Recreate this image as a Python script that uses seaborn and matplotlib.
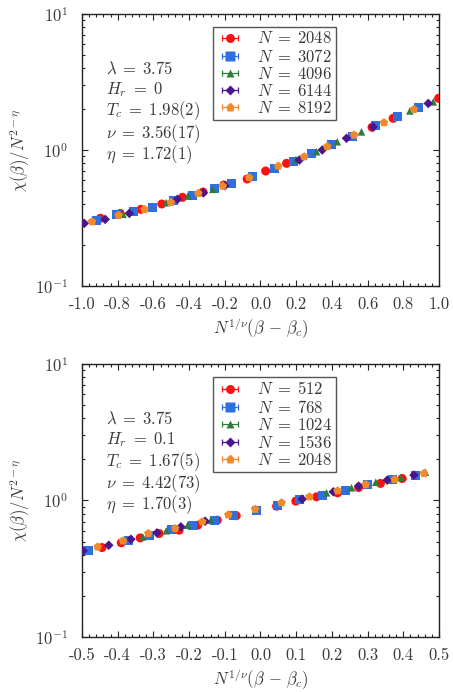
import numpy as np
import pandas as pd
import matplotlib
matplotlib.use("Agg")
import matplotlib.pyplot as plt
import seaborn as sns
from matplotlib.ticker import FixedLocator, MultipleLocator, LogLocator, NullFormatter

# ---------------- data ----------------
top_labels = ["2048", "3072", "4096", "6144", "8192"]
top_red_x = [-0.897, -0.786, -0.67, -0.553, -0.437, -0.322, -0.205, -0.075, 0.029, 0.146, 0.625, 0.743, 0.998]
top_red_y = [0.315, 0.342, 0.366, 0.401, 0.449, 0.491, 0.553, 0.612, 0.701, 0.798, 1.47, 1.71, 2.40]
top_blue_x = [-0.92, -0.804, -0.711, -0.603, -0.487, -0.379, -0.26, -0.165, -0.045, 0.08, 0.184, 0.286, 0.398, 0.515, 0.645, 0.765, 0.888]
top_blue_y = [0.305, 0.333, 0.352, 0.377, 0.422, 0.464, 0.52, 0.569, 0.637, 0.733, 0.820, 0.935, 1.09, 1.25, 1.52, 1.76, 2.06]
top_green_x = [-0.77, -0.528, -0.407, -0.267, 0.199, 0.314, 0.43, 0.566, 0.837, 0.968]
top_green_y = [0.337, 0.410, 0.459, 0.514, 0.853, 0.972, 1.15, 1.36, 1.94, 2.26]
top_purple_x = [-0.987, -0.87, -0.735, -0.465, -0.32, -0.2, 0.218, 0.346, 0.482, 0.631, 0.94]
top_purple_y = [0.289, 0.309, 0.342, 0.434, 0.485, 0.547, 0.844, 1.0, 1.22, 1.48, 2.20]
top_orange_x = [-0.944, -0.795, -0.65, -0.502, -0.348, -0.211, -0.063, 0.10, 0.245, 0.374, 0.525, 0.692, 0.86]
top_orange_y = [0.297, 0.331, 0.366, 0.412, 0.480, 0.543, 0.626, 0.762, 0.893, 1.06, 1.29, 1.59, 1.99]

bot_labels = ["512", "768", "1024", "1536", "2048"]
bot_red_x = [-0.444, -0.39, -0.337, -0.284, -0.228, -0.176, -0.121, -0.068, 0.045, 0.099, 0.157, 0.216, 0.275, 0.336, 0.397]
bot_red_y = [0.452, 0.490, 0.532, 0.573, 0.606, 0.659, 0.718, 0.773, 0.908, 0.989, 1.064, 1.138, 1.245, 1.334, 1.449]
bot_blue_x = [-0.481, -0.37, -0.311, -0.248, -0.19, -0.13, -0.076, -0.011, 0.047, 0.109, 0.174, 0.239, 0.301, 0.369, 0.435]
bot_blue_y = [0.433, 0.512, 0.557, 0.612, 0.652, 0.718, 0.776, 0.839, 0.918, 1.016, 1.094, 1.191, 1.310, 1.426, 1.517]
bot_green_x = [-0.33, -0.264, -0.204, -0.139, 0.185, 0.255, 0.323, 0.393, 0.462]
bot_green_y = [0.541, 0.600, 0.659, 0.718, 1.138, 1.239, 1.361, 1.476, 1.614]
bot_purple_x = [-0.497, -0.425, -0.363, -0.29, -0.223, -0.155, 0.117, 0.204, 0.275, 0.355, 0.43]
bot_purple_y = [0.428, 0.470, 0.520, 0.579, 0.641, 0.705, 1.023, 1.158, 1.274, 1.409, 1.535]
bot_orange_x = [-0.456, -0.385, -0.314, -0.239, -0.163, -0.09, -0.015, 0.059, 0.137, 0.216, 0.295, 0.376, 0.458]
bot_orange_y = [0.457, 0.506, 0.573, 0.624, 0.698, 0.785, 0.863, 0.962, 1.064, 1.178, 1.310, 1.426, 1.578]

top_params = [r"$\lambda\;=\;3.75$", r"$H_r\;=\;0$", r"$T_c\;=\;1.98(2)$", r"$\nu\;=\;3.56(17)$", r"$\eta\;=\;1.72(1)$"]
bot_params = [r"$\lambda\;=\;3.75$", r"$H_r\;=\;0.1$", r"$T_c\;=\;1.67(5)$", r"$\nu\;=\;4.42(73)$", r"$\eta\;=\;1.70(3)$"]

top_xticks = [-1.0, -0.8, -0.6, -0.4, -0.2, 0.0, 0.2, 0.4, 0.6, 0.8, 1.0]
bot_xticks = [-0.5, -0.4, -0.3, -0.2, -0.1, 0.0, 0.1, 0.2, 0.3, 0.4, 0.5]

# ---------------- style ----------------
sns.set_theme(style="ticks")
plt.rcParams["font.family"] = ["cmr10", "DejaVu Serif"]
plt.rcParams["mathtext.fontset"] = "cm"
plt.rcParams["axes.formatter.use_mathtext"] = True
plt.rcParams["axes.unicode_minus"] = False

TXT = "#3a3a3a"
colors = ["#ff1010", "#2f6fe0", "#2e7d3a", "#4b168c", "#f28a2a"]
markers = ["o", "s", "^", "D", "p"]
sizes = [42, 42, 30, 24, 42]

fig = plt.figure(figsize=(4.53, 6.92), dpi=100)
ax1 = fig.add_axes([0.181, 0.5867, 0.788, 0.393])
ax2 = fig.add_axes([0.181, 0.0795, 0.788, 0.3945])


def draw(ax, xs, ys, labels, params, xticks, xmin, xmax, minor):
    for i in range(5):
        df = pd.DataFrame({"x": xs[i], "y": ys[i]})
        sns.scatterplot(data=df, x="x", y="y", ax=ax, marker=markers[i], color=colors[i],
                        s=sizes[i], edgecolor="none", linewidth=0, legend=False, zorder=3 + i)
    ax.set_yscale("log")
    ax.set_xlim(xmin, xmax)
    ax.set_ylim(0.1, 10)
    ax.xaxis.set_major_locator(FixedLocator(xticks))
    ax.set_xticklabels(["%.1f" % t for t in xticks])
    ax.xaxis.set_minor_locator(MultipleLocator(minor))
    ax.yaxis.set_major_locator(LogLocator(base=10, numticks=5))
    ax.yaxis.set_minor_locator(LogLocator(base=10, subs=np.arange(2, 10), numticks=20))
    ax.yaxis.set_minor_formatter(NullFormatter())
    ax.tick_params(which="both", direction="in", top=True, right=True, colors="#222222",
                   labelcolor=TXT, labelsize=12, width=0.8)
    ax.tick_params(which="major", length=4)
    ax.tick_params(axis="x", which="major", pad=8)
    ax.tick_params(axis="y", which="major", pad=10)
    ax.tick_params(which="minor", length=2)
    for sp in ax.spines.values():
        sp.set_linewidth(1.0)
        sp.set_color("#222222")
    ax.set_xlabel(r"$N^{1/\nu}(\beta\,-\,\beta_c)$", fontsize=12, color=TXT)
    ax.set_ylabel(r"$\chi(\beta)/N^{2-\eta}$", fontsize=12, color=TXT)

    handles = []
    for i in range(5):
        h = ax.errorbar([np.nan], [np.nan], xerr=[[0.1], [0.1]], fmt=markers[i], color=colors[i],
                        ms=np.sqrt(sizes[i]), mec="none", capsize=2, elinewidth=0.9,
                        capthick=0.9, label=r"$N\;=\;%s$" % labels[i])
        handles.append(h)
    leg = ax.legend(handles=handles, loc="upper left", bbox_to_anchor=(0.367, 0.953),
                    frameon=True, fancybox=False, edgecolor="#555555", framealpha=1,
                    fontsize=12, handlelength=1.6, handletextpad=0.8, labelspacing=0.07,
                    borderpad=0.22, borderaxespad=0.0, labelcolor=TXT)
    leg.get_frame().set_linewidth(1.0)
    ys_txt = [0.801, 0.723, 0.643, 0.562, 0.483]
    for t, yy in zip(params, ys_txt):
        ax.text(0.068, yy, t, transform=ax.transAxes, fontsize=12, color=TXT, va="center", ha="left")


draw(ax1,
     [top_red_x, top_blue_x, top_green_x, top_purple_x, top_orange_x],
     [top_red_y, top_blue_y, top_green_y, top_purple_y, top_orange_y],
     top_labels, top_params, top_xticks, -1.0, 1.0, 0.04)
draw(ax2,
     [bot_red_x, bot_blue_x, bot_green_x, bot_purple_x, bot_orange_x],
     [bot_red_y, bot_blue_y, bot_green_y, bot_purple_y, bot_orange_y],
     bot_labels, bot_params, bot_xticks, -0.5, 0.5, 0.02)

for ax in (ax1, ax2):
    ax.yaxis.set_label_coords(-0.14, 0.5)
    ax.xaxis.set_label_coords(0.5, -0.112)

fig.savefig("out.png", dpi=100)
